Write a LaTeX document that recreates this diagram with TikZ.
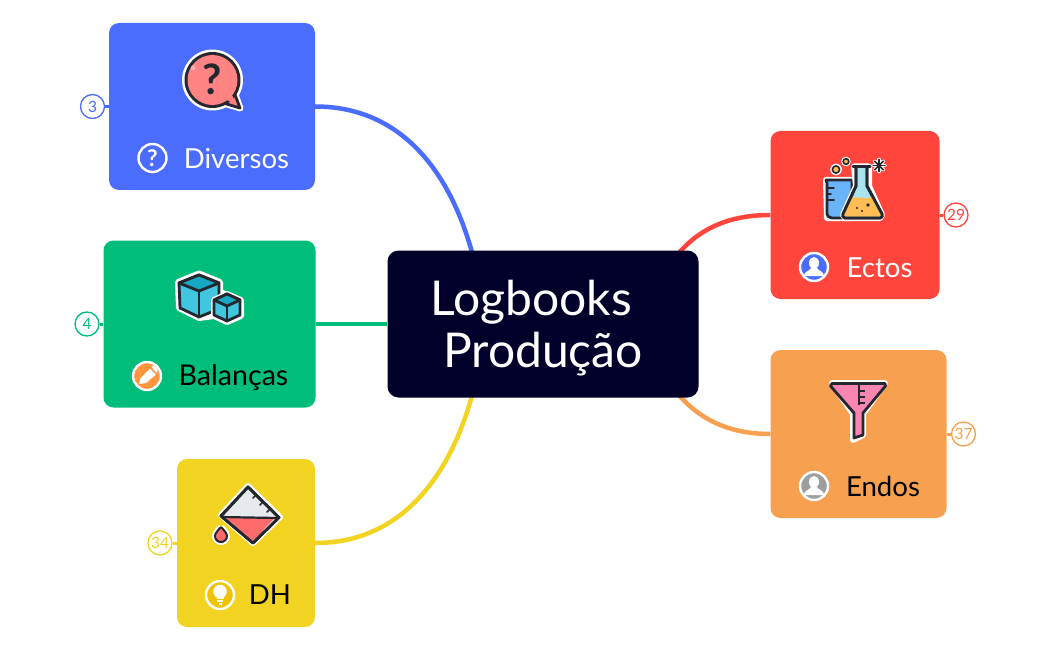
\documentclass[tikz,border=0pt]{standalone}
\usepackage{fontspec}
\setmainfont{Lato}
\usetikzlibrary{backgrounds}
\definecolor{cblue}{HTML}{4A6CFF}
\definecolor{cgreen}{HTML}{00BD7A}
\definecolor{cyellow}{HTML}{F2D321}
\definecolor{cred}{HTML}{FF453C}
\definecolor{corange}{HTML}{F7A04F}
\definecolor{croot}{HTML}{00002B}
\definecolor{ink}{HTML}{25272E}
\definecolor{bubblepink}{HTML}{FF8383}
\definecolor{cubeblue}{HTML}{40C6DF}
\definecolor{cubedark}{HTML}{17A9C4}
\definecolor{liquid}{HTML}{FF6B6B}
\definecolor{paleg}{HTML}{E6E9EE}
\definecolor{beaker}{HTML}{69B4F8}
\definecolor{flaskb}{HTML}{A8E4EE}
\definecolor{amber}{HTML}{FFBE55}
\definecolor{funnelp}{HTML}{F986B0}
\definecolor{chipy}{HTML}{EFC200}
\definecolor{chipo}{HTML}{FF953D}
\definecolor{chipg}{HTML}{9E9E9E}
\tikzset{
  card/.style={rectangle,rounded corners=10pt,inner sep=0pt,draw=none},
  rootbox/.style={rectangle,rounded corners=11pt,inner sep=0pt,fill=croot,minimum width=311pt,minimum height=147pt},
  link/.style={line width=4.5pt},
  badge/.style={circle,draw,fill=white,line width=1.3pt,minimum size=24pt,inner sep=0pt,font=\fontsize{15.5}{16}\selectfont},
  stub/.style={line width=3pt},
  label/.style={anchor=base,inner sep=0pt,font=\fontsize{27.6}{28}\selectfont},
  balabel/.style={label,font=\fontsize{28.6}{29}\selectfont},
  roottext/.style={anchor=base,inner sep=0pt,text=white,font=\fontsize{48}{48}\selectfont},
  halo/.style={draw=white,line width=6pt,line join=round,line cap=round},
  inkline/.style={draw=ink,line width=2.8pt,line join=round,line cap=round},
  tick/.style={draw=ink,line width=1.6pt,line cap=round},
  chip/.style={circle,draw=white,line width=2.4pt,minimum size=28pt,inner sep=0pt},
}
\begin{document}
\begin{tikzpicture}[x=1pt,y=-1pt]
\useasboundingbox (0,0) rectangle (1050,650);
% cards
\node[card,fill=cblue,minimum width=206pt,minimum height=167pt] (diversos) at (212,106.5) {};
\node[card,fill=cgreen,minimum width=212pt,minimum height=167pt] (balancas) at (209.5,324) {};
\node[card,fill=cyellow,minimum width=138pt,minimum height=168pt] (dh) at (246,543) {};
\node[card,fill=cred,minimum width=169pt,minimum height=168pt] (ectos) at (855,215) {};
\node[card,fill=corange,minimum width=176pt,minimum height=168pt] (endos) at (858.5,434) {};
\node[rootbox] (root) at (543,324) {};
\coordinate (rootNW) at (473,256);
\coordinate (rootSW) at (473,392);
\coordinate (rootNE) at (678,254);
\coordinate (rootSE) at (678,394);
% badges
\node[badge,draw=cblue,text=cblue] (b3) at (92.5,106.5) {3};
\node[badge,draw=cgreen,text=cgreen] (b4) at (87,324) {4};
\node[badge,draw=cyellow,text=cyellow] (b34) at (160,543) {34};
\node[badge,draw=cred,text=cred] (b29) at (956,215) {29};
\node[badge,draw=corange,text=corange] (b37) at (963.5,434) {37};
\begin{scope}[on background layer]
\draw[link,cblue] (diversos.east) .. controls (400,106.5) and (450,170) .. (rootNW);
\draw[link,cgreen] (balancas.east) -- (root.west);
\draw[link,cyellow] (dh.east) .. controls (400,543) and (450,478) .. (rootSW);
\draw[link,cred] (ectos.west) .. controls (730,215) and (700,228) .. (rootNE);
\draw[link,corange] (endos.west) .. controls (730,434) and (700,420) .. (rootSE);
\draw[stub,cblue] (b3) -- (diversos.west);
\draw[stub,cgreen] (b4) -- (balancas.west);
\draw[stub,cyellow] (b34) -- (dh.west);
\draw[stub,cred] (b29) -- (ectos.east);
\draw[stub,corange] (b37) -- (endos.east);
\end{scope}
% texts
\node[roottext] (t1) at (531,315) {Logbooks};
\node[roottext] (t2) at (543,367.5) {Produção};
\node[label,text=white] (l1) at (236.5,168) {Diversos};
\node[balabel,text=black] (l2) at (233.5,385) {Balanças};
\node[label,text=black] (l3) at (270,604.5) {DH};
\node[label,text=white] (l4) at (879.5,277) {Ectos};
\node[label,text=black] (l5) at (883,496) {Endos};
% --- speech bubble icon
\draw[halo,fill=white] (225,104) -- (240.5,108.5) -- (234,90) -- cycle;
\fill[white] (212.5,80) circle[radius=30.5];
\draw[inkline,fill=bubblepink] (225,103.5) -- (240,108) -- (234,92) -- cycle;
\fill[ink] (212.5,80) circle[radius=28];
\fill[bubblepink] (212.5,80) circle[radius=25];
\fill[bubblepink] (227,100) -- (236.5,105) -- (232,95) -- cycle;
\fill[white,opacity=.35] (193,68) circle[radius=2.5];
\node[inner sep=0pt,text=ink,font=\fontsize{42}{42}\selectfont\bfseries] (q1) at (212.5,79) {?};
% --- cubes icon
\draw[halo,fill=white] (199,273.5) -- (220,282) -- (220,292) -- (241,300) -- (241,316) -- (227,322) -- (214,316) -- (199,318) -- (179,308) -- (178,282) -- cycle;
\draw[inkline,fill=cubeblue] (179,283) -- (199,275) -- (219,283) -- (219,309) -- (199,317) -- (180,308) -- cycle;
\draw[inkline,fill=cubedark] (179,283) -- (199,275) -- (219,283) -- (199,291) -- cycle;
\draw[inkline] (199,291) -- (199,317);
\draw[halo,fill=white] (227,294) -- (240,300) -- (240,315) -- (227,321) -- (214,315) -- (214,300) -- cycle;
\draw[inkline,fill=cubeblue] (227,294) -- (240,300) -- (240,315) -- (227,321) -- (214,315) -- (214,300) -- cycle;
\draw[inkline,fill=cubedark] (227,294) -- (240,300) -- (227,306) -- (214,300) -- cycle;
\draw[inkline] (227,306) -- (227,321);
% --- beaker icon
\draw[halo,fill=white] (248,486) -- (280,517) -- (253,543) -- (221,515) -- cycle;
\draw[inkline,fill=paleg] (248,487) -- (279,517.5) -- (253,543) -- (221,516) -- cycle;
\fill[liquid] (226,518) -- (274.5,518) -- (253,541) -- cycle;
\draw[draw=ink,line width=2.2pt] (221,517) -- (277,518);
\draw[inkline] (248,487) -- (279,517.5) -- (253,543) -- (221,516) -- cycle;
\foreach \tx/\ty in {256/495,263/502,270/509}{\draw[tick] (\tx,\ty) -- (\tx-3,\ty+3);}
\draw[white,line width=6pt,line join=round] (221,527) .. controls (225,531) and (227,534) .. (227,536) arc[start angle=0,end angle=180,radius=6] .. controls (215,534) and (217,531) .. (221,527);
\draw[ink,line width=2pt,fill=liquid,line join=round] (221,527) .. controls (225,531) and (227,534) .. (227,536) arc[start angle=0,end angle=180,radius=6] .. controls (215,534) and (217,531) .. (221,527);
% --- lab icon
\draw[halo,fill=white] (826,180) -- (852,180) -- (852,218) -- (827,218) -- cycle;
\draw[inkline,fill=beaker] (826,180) -- (852,180) -- (852,218) -- (832,218) .. controls (829,218) and (827,216) .. (827,214) -- (827,183) -- cycle;
\foreach \ty/\tl in {188/834,194/831,200/834}{\draw[tick] (828,\ty) -- (\tl,\ty);}
\draw[halo,fill=white] (854,166.5) -- (869,166.5) -- (869,186) -- (882,215) -- (880,218) -- (845,218) -- (843,215) -- (856,186) -- cycle;
\draw[inkline,fill=flaskb] (854,166.5) -- (870,166.5) -- (867,167) -- (867,186) -- (882,214) .. controls (883,216) and (882,218) .. (880,218) -- (845,218) .. controls (843,218) and (842,216) .. (843,214) -- (856,186) -- (856,167) -- cycle;
\fill[amber] (850,199) .. controls (856,195) and (864,199) .. (868,198) .. controls (871,197) and (873,195) .. (875,197) -- (881,214) -- (881,216.5) -- (844,216.5) -- (844,213) -- cycle;
\draw[inkline] (853,166.5) -- (870,166.5);
\draw[inkline] (856,167) -- (856,186) -- (843,214) .. controls (842,216) and (843,218) .. (845,218) -- (880,218) .. controls (882,218) and (883,216) .. (882,214) -- (867,186) -- (867,167);
\fill[ink] (868,205) circle[radius=1.8] (857,208) circle[radius=1.2] (862,211) circle[radius=1.2];
\fill[white] (836,169.5) circle[radius=5.8] (846,161.5) circle[radius=4.8];
\draw[ink,line width=1.6pt,fill=amber] (836,169.5) circle[radius=3.6] (846,161.5) circle[radius=2.8];
\foreach \ang in {0,45,...,315}{\draw[white,line width=3.6pt,line cap=round] (879,165.5) -- ++(\ang:6);}
\foreach \ang in {0,45,...,315}{\draw[ink,line width=1.5pt,line cap=round] (879,165.5) -- ++(\ang:6);}
% --- funnel icon
\draw[halo,fill=white] (832,383) -- (885,383) -- (863,414) -- (863,435) -- (853,440) -- (853,414) -- cycle;
\draw[inkline,fill=funnelp] (832,383.5) -- (885,383.5) -- (885.5,386) -- (863,413) -- (863,435) -- (854,438) -- (854,413) -- (830.5,386) -- cycle;
\draw[draw=ink,line width=2pt] (858.5,385) -- (858.5,405);
\foreach \ty in {391,397,403}{\draw[draw=ink,line width=1.6pt] (858.5,\ty) -- (865,\ty);}
% --- chips
\node[chip,fill=cblue] (c1) at (152.5,158) {};
\node[inner sep=0pt,text=white,font=\fontsize{23}{23}\selectfont\bfseries] (q2) at (152.5,158) {?};
\node[chip,fill=chipo] (c2) at (147,376) {};
\fill[white] (139,384) -- (140.5,378) -- (150,368.5) -- (156,374.5) -- (146,383) -- cycle;
\fill[white] (151.5,367) .. controls (153,365.5) and (154,365.5) .. (155.5,367) -- (156.5,368) .. controls (158,369.5) and (158,370.5) .. (157,372) -- (156.5,373) -- cycle;
\node[chip,fill=chipy] (c3) at (220,595) {};
\fill[white] (220,591.5) circle[radius=6.8];
\fill[white] (216.5,592) rectangle (223.5,598.5);
\fill[white] (217,600) rectangle (223,602);
\fill[white] (218.5,603) rectangle (221.5,604.5);
\node[chip,fill=cblue] (c4) at (814,267) {};
\fill[white] (814,263) ellipse[x radius=5,y radius=6];
\fill[white] (804,276) .. controls (804,271) and (810,271) .. (811,268) -- (817,268) .. controls (818,271) and (824,271) .. (824,276) -- cycle;
\node[chip,fill=chipg] (c5) at (814,486) {};
\fill[white] (814,482) ellipse[x radius=5,y radius=6];
\fill[white] (804,495) .. controls (804,490) and (810,490) .. (811,487) -- (817,487) .. controls (818,490) and (824,490) .. (824,495) -- cycle;
\end{tikzpicture}
\end{document}
